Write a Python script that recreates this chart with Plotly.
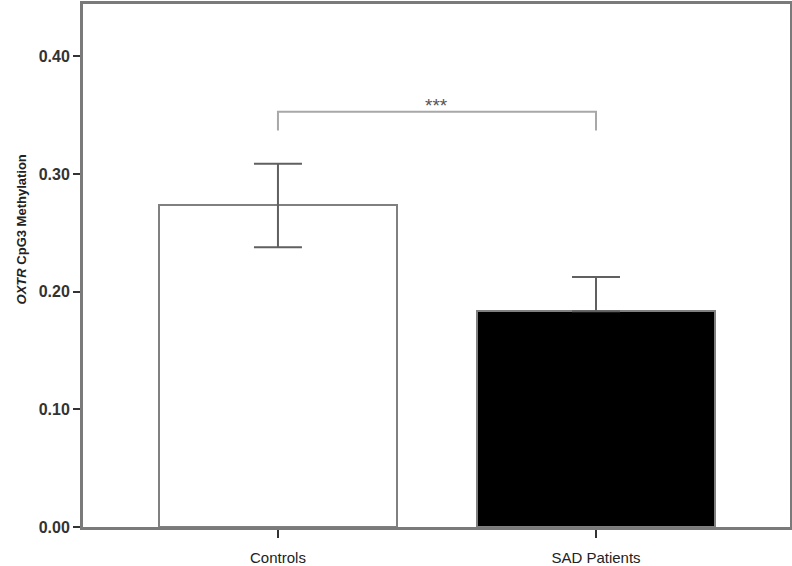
import plotly.graph_objects as go

groups = ["Controls", "SAD Patients"]
means = [0.2733, 0.1834]
sem = [0.0355, 0.029]
bar_fill = ["white", "black"]
bracket_top = 0.353
bracket_foot = 0.337
stars = "***"

xs = list(range(len(groups)))

fig = go.Figure()
fig.add_trace(go.Bar(
    x=xs, y=means, width=0.75,
    marker=dict(color=bar_fill, line=dict(color="#808080", width=2)),
    error_y=dict(type="data", array=sem, arrayminus=[sem[0], 0],
                 color="#606060", thickness=2, width=24),
    showlegend=False,
))

# significance bracket
fig.add_trace(go.Scatter(
    x=[xs[0], xs[0], xs[1], xs[1]],
    y=[bracket_foot, bracket_top, bracket_top, bracket_foot],
    mode="lines", line=dict(color="#a8a8a8", width=2),
    hoverinfo="skip", showlegend=False,
))
fig.add_annotation(x=(xs[0] + xs[1]) / 2, y=bracket_top, text=stars,
                   showarrow=False, yanchor="bottom", yshift=-6,
                   font=dict(family="Arial", size=19, color="#555"))

fig.add_annotation(xref="paper", yref="paper", x=0, y=0.568, xshift=-71,
                   text="<i>OXTR</i> CpG3 Methylation", textangle=-90,
                   showarrow=False,
                   font=dict(family="Arial", size=13, color="#222", weight="bold"))

fig.update_xaxes(range=[-0.613, 1.61], tickvals=xs, ticktext=groups,
                 showline=True, linecolor="#7a7a7a", linewidth=3, mirror=True,
                 ticks="outside", ticklen=8, tickcolor="#333", tickwidth=2,
                 ticklabelstandoff=7, showgrid=False, zeroline=False,
                 automargin=False,
                 tickfont=dict(family="Arial", size=15, color="#222"))
fig.update_yaxes(range=[0, 0.4445], tickvals=[0, 0.1, 0.2, 0.3, 0.4],
                 tickformat=".2f", showline=True, linecolor="#7a7a7a",
                 linewidth=3, mirror=True, ticks="outside", ticklen=7,
                 tickcolor="#333", tickwidth=2, showgrid=False, zeroline=False,
                 automargin=False,
                 tickfont=dict(family="Arial", size=16, color="#333", weight="bold"))

fig.update_layout(width=792, height=566, margin=dict(l=83, r=2, t=4, b=39),
                  plot_bgcolor="white", paper_bgcolor="white", bargap=0)

fig.write_html("out.html", config={"displayModeBar": False},
               post_script="document.body.style.margin='0';")
